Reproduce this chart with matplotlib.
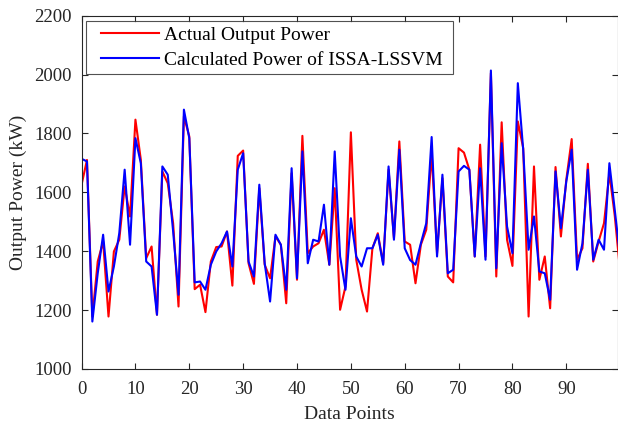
import matplotlib
matplotlib.use('Agg')
import matplotlib.pyplot as plt
from matplotlib.legend_handler import HandlerLine2D
import numpy as np

# values
actual_power = [
    1626, 1710, 1178, 1365, 1433, 1178, 1399, 1439, 1620, 1518,
    1847, 1711, 1376, 1416, 1184, 1671, 1631, 1495, 1212, 1858,
    1790, 1271, 1286, 1193, 1365, 1414, 1416, 1467, 1283, 1724,
    1742, 1359, 1289, 1614, 1354, 1308, 1450, 1422, 1223, 1665,
    1303, 1792, 1393, 1416, 1427, 1473, 1354, 1614, 1201, 1280,
    1804, 1371, 1269, 1195, 1410, 1461, 1359, 1677, 1444, 1773,
    1433, 1422, 1291, 1422, 1473, 1733, 1393, 1648, 1314, 1294,
    1750, 1735, 1677, 1382, 1762, 1382, 2005, 1314, 1838, 1439,
    1350, 1841, 1750, 1178, 1688, 1303, 1382, 1206, 1686, 1450,
    1643, 1781, 1371, 1410, 1697, 1365, 1433, 1495, 1665, 1520,
    1330,
]
issa_lssvm_power = [
    1714, 1705, 1161, 1325, 1456, 1263, 1348, 1461, 1677, 1422,
    1784, 1699, 1365, 1348, 1184, 1688, 1660, 1467, 1252, 1881,
    1784, 1294, 1297, 1269, 1354, 1399, 1427, 1467, 1348, 1677,
    1733, 1365, 1314, 1626, 1359, 1229, 1456, 1422, 1269, 1682,
    1308, 1739, 1359, 1439, 1433, 1558, 1354, 1739, 1382, 1269,
    1512, 1382, 1348, 1410, 1410, 1456, 1354, 1688, 1439, 1745,
    1410, 1370, 1354, 1427, 1495, 1788, 1382, 1660, 1325, 1337,
    1671, 1690, 1677, 1382, 1682, 1371, 2014, 1342, 1767, 1484,
    1393, 1971, 1745, 1405, 1518, 1331, 1325, 1235, 1671, 1478,
    1637, 1745, 1337, 1427, 1677, 1371, 1439, 1405, 1699, 1540,
    1380,
]
x_ticks = [0, 10, 20, 30, 40, 50, 60, 70, 80, 90]
y_ticks = [1000, 1200, 1400, 1600, 1800, 2000, 2200]

plt.rcParams['font.family'] = ['Liberation Serif', 'DejaVu Serif']
axis_color = '#262626'

fig = plt.figure(figsize=(6.18, 4.26), dpi=100)
ax = fig.add_axes([0.132, 0.134, 0.868, 0.829])

points = np.arange(len(actual_power))
red_line, = ax.plot(points, actual_power, color='red', lw=1.5, label='Actual Output Power')
blue_line, = ax.plot(points, issa_lssvm_power, color='blue', lw=1.5,
                     label='Calculated Power of ISSA-LSSVM')

ax.set_xlim(0, 99.6)
ax.set_ylim(1000, 2200)
ax.set_xticks(x_ticks)
ax.set_yticks(y_ticks)
ax.tick_params(direction='in', top=True, right=True, labelsize=13.5,
               colors=axis_color, length=4, width=0.8)
ax.tick_params(axis='x', pad=8.5)
ax.tick_params(axis='y', pad=7)
for spine in ax.spines.values():
    spine.set_color(axis_color)
    spine.set_linewidth(0.8)

ax.set_xlabel('Data Points', fontsize=14, color=axis_color, labelpad=6)
ax.set_ylabel('Output Power (kW)', fontsize=14, color=axis_color, labelpad=5)

# wide frame with the handles pushed in from the left, like the reference
pad_handler = HandlerLine2D(xpad=0.47)
leg = ax.legend(loc='upper left', fontsize=14, handlelength=3.45, fancybox=False,
                borderpad=0.3, labelspacing=0.35, handletextpad=0.26,
                borderaxespad=0.0, mode='expand',
                bbox_to_anchor=(0.008, 0.986, 0.685, 0.0),
                handler_map={red_line: pad_handler, blue_line: pad_handler})
leg.get_frame().set_edgecolor(axis_color)
leg.get_frame().set_linewidth(0.8)

fig.savefig('out.png', dpi=100)
